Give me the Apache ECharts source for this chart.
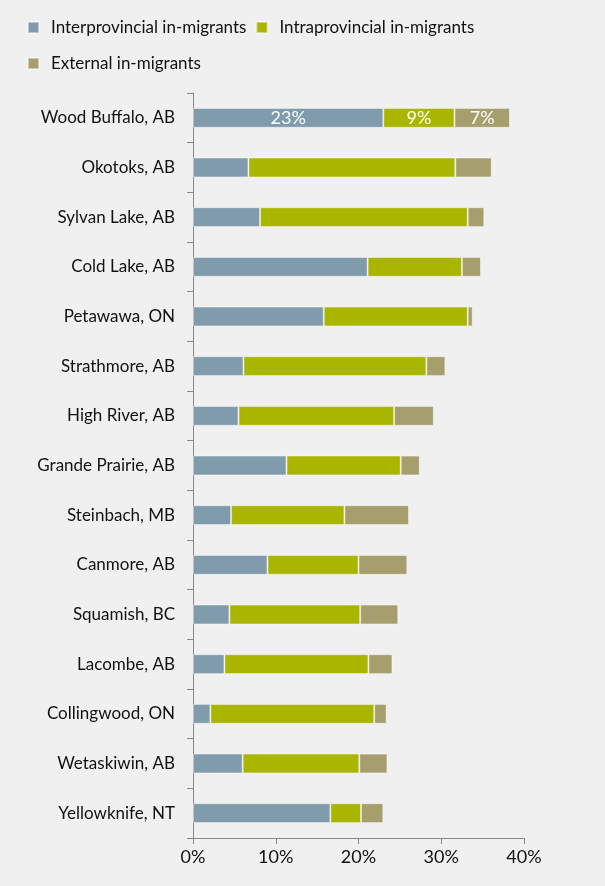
<!DOCTYPE html>
<html style="height: 100%">
<head>
  <meta charset="utf-8">
</head>
<body style="height: 100%; margin: 0; background: #f0f0f0">
  <div id="container" style="width: 605px; height: 886px"></div>
  <script src="https://cdn.jsdelivr.net/npm/echarts@6/dist/echarts.min.js"></script>
  <script>
    var cities = ['Wood Buffalo, AB', 'Okotoks, AB', 'Sylvan Lake, AB', 'Cold Lake, AB', 'Petawawa, ON',
      'Strathmore, AB', 'High River, AB', 'Grande Prairie, AB', 'Steinbach, MB', 'Canmore, AB',
      'Squamish, BC', 'Lacombe, AB', 'Collingwood, ON', 'Wetaskiwin, AB', 'Yellowknife, NT'];
    var interprovincial = [23.0, 6.7, 8.1, 21.1, 15.8, 6.1, 5.5, 11.3, 4.6, 9.0, 4.4, 3.8, 2.1, 6.0, 16.6];
    var intraprovincial = [8.6, 25.0, 25.1, 11.4, 17.4, 22.1, 18.8, 13.8, 13.7, 11.0, 15.8, 17.4, 19.8, 14.1, 3.7];
    var external = [6.7, 4.4, 2.0, 2.3, 0.6, 2.3, 4.8, 2.3, 7.8, 5.9, 4.6, 2.9, 1.5, 3.4, 2.7];
    var xTicks = [0, 10, 20, 30, 40];

    var font = 'Lato, sans-serif';
    var chart = echarts.init(document.getElementById('container'));

    // only the first bar carries value labels
    function withLabel(arr) {
      return arr.map(function (v, i) {
        return i === 0 ? { value: v, label: { show: true } } : v;
      });
    }

    function barSeries(name, arr, color) {
      return {
        name: name,
        type: 'bar',
        stack: 'total',
        barCategoryGap: '60%',
        data: withLabel(arr),
        itemStyle: { color: color, borderColor: 'rgba(255,255,255,0.45)', borderWidth: 1 },
        label: {
          show: false,
          position: 'inside',
          color: '#fff',
          fontSize: 18,
          fontFamily: font,
          formatter: function (p) { return Math.round(p.value) + '%'; }
        }
      };
    }

    var option = {
      backgroundColor: '#f0f0f0',
      animation: false,
      legend: {
        left: 22,
        top: 9,
        width: 545,
        itemWidth: 11,
        itemHeight: 11,
        itemGap: 9,
        icon: 'rect',
        textStyle: { fontSize: 17, color: '#111', fontFamily: font, lineHeight: 27, padding: [0, 0, 0, 7] }
      },
      grid: { left: 193, right: 81, top: 93, bottom: 48 },
      xAxis: {
        type: 'value',
        min: xTicks[0],
        max: xTicks[xTicks.length - 1],
        interval: 10,
        axisLine: { show: true, lineStyle: { color: '#888' } },
        axisTick: { show: true, length: 6, lineStyle: { color: '#888' } },
        splitLine: { show: false },
        axisLabel: { fontSize: 18, color: '#111', fontFamily: font, margin: 10, formatter: '{value}%' }
      },
      yAxis: {
        type: 'category',
        data: cities,
        inverse: true,
        axisLine: { show: true, lineStyle: { color: '#888' } },
        axisTick: { show: true, length: 6, lineStyle: { color: '#888' } },
        axisLabel: { fontSize: 17, color: '#111', fontFamily: font, margin: 18 }
      },
      series: [
        barSeries('Interprovincial in-migrants', interprovincial, '#7f9bac'),
        barSeries('Intraprovincial in-migrants', intraprovincial, '#aab500'),
        barSeries('External in-migrants', external, '#a79e6e')
      ]
    };

    chart.setOption(option);
  </script>
</body>
</html>
